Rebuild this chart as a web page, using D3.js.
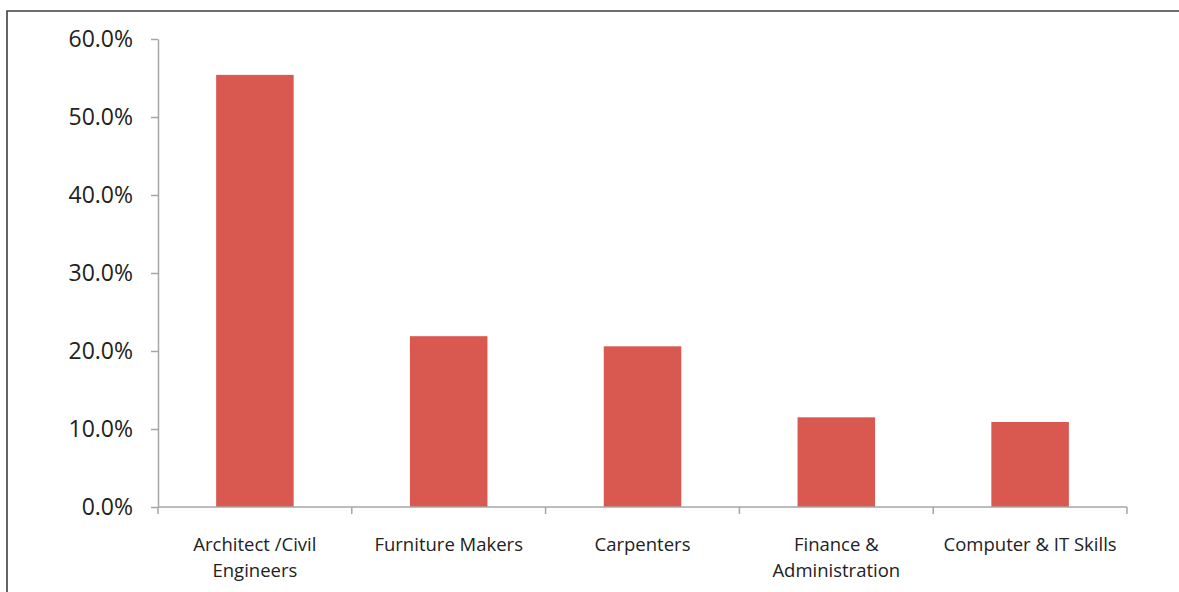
<!DOCTYPE html>
<html>
<head>
<meta charset="utf-8">
<script src="https://cdn.jsdelivr.net/npm/d3@7"></script>
<style>
  html, body { margin: 0; padding: 0; background: #fff; }
  svg { display: block; }
</style>
</head>
<body>
<svg id="chart" width="1179" height="592"></svg>
<script>
// Share of demand by skill area
const categories = [
  ["Architect /Civil", "Engineers"],
  ["Furniture Makers"],
  ["Carpenters"],
  ["Finance &", "Administration"],
  ["Computer & IT Skills"]
];
const values = [0.554, 0.219, 0.206, 0.115, 0.109];
const yTicks = [0, 0.1, 0.2, 0.3, 0.4, 0.5, 0.6];

const svg = d3.select("#chart");
const W = 1179, H = 592;
const plot = { left: 158, right: 1127, top: 39, bottom: 507 };
const font = "'Open Sans', 'Liberation Sans', sans-serif";
const axisColor = "#a6a6a6";

// outer frame (open to the right and bottom)
svg.append("path")
  .attr("d", `M7,${H}V11H${W}`)
  .attr("fill", "none")
  .attr("stroke", "#3f3f3f")
  .attr("stroke-width", 1.6);

const x = d3.scaleBand()
  .domain(d3.range(categories.length))
  .range([plot.left, plot.right])
  .paddingInner(0.6)
  .paddingOuter(0.3);

const y = d3.scaleLinear()
  .domain([0, 0.6])
  .range([plot.bottom, plot.top]);

// bars
svg.append("g")
  .selectAll("rect")
  .data(values)
  .join("rect")
  .attr("x", (d, i) => x(i))
  .attr("width", x.bandwidth())
  .attr("y", d => y(d))
  .attr("height", d => y(0) - y(d))
  .attr("fill", "#d95951");

// y axis
const yAxis = svg.append("g")
  .attr("transform", `translate(${plot.left},0)`)
  .call(d3.axisLeft(y).tickValues(yTicks).tickFormat(d3.format(".1%")).tickSize(7).tickSizeOuter(0));
yAxis.select(".domain").attr("stroke", axisColor).attr("stroke-width", 1.5);
yAxis.selectAll(".tick line").attr("stroke", axisColor).attr("stroke-width", 1.5);
yAxis.selectAll(".tick text")
  .attr("x", -25)
  .attr("fill", "#222")
  .style("font-family", font)
  .style("font-size", "23px");

// x axis: ticks at category boundaries
const bounds = d3.range(categories.length + 1).map(i => plot.left + i * x.step());
const xAxisG = svg.append("g");
xAxisG.append("line")
  .attr("x1", plot.left).attr("x2", plot.right)
  .attr("y1", plot.bottom).attr("y2", plot.bottom)
  .attr("stroke", axisColor).attr("stroke-width", 1.5);
xAxisG.selectAll("line.tk")
  .data(bounds)
  .join("line")
  .attr("class", "tk")
  .attr("x1", d => d).attr("x2", d => d)
  .attr("y1", plot.bottom).attr("y2", plot.bottom + 7)
  .attr("stroke", axisColor).attr("stroke-width", 1.5);

// category labels
const labels = svg.append("g")
  .selectAll("text")
  .data(categories)
  .join("text")
  .attr("x", (d, i) => x(i) + x.bandwidth() / 2)
  .attr("y", 551)
  .attr("text-anchor", "middle")
  .attr("fill", "#222")
  .style("font-family", font)
  .style("font-size", "18.5px");
labels.selectAll("tspan")
  .data(d => d)
  .join("tspan")
  .attr("x", function() { return d3.select(this.parentNode).attr("x"); })
  .attr("dy", (d, i) => i === 0 ? 0 : 26)
  .text(d => d);
</script>
</body>
</html>
